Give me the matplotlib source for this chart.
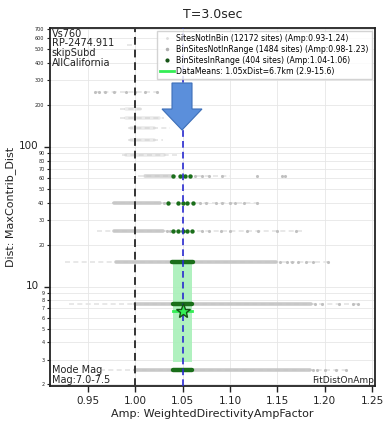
import matplotlib
matplotlib.use("Agg")
import matplotlib.pyplot as plt
import matplotlib.patches as mpatches
import matplotlib.transforms as mtransforms
from matplotlib.lines import Line2D
from matplotlib.ticker import FixedLocator, FixedFormatter

# ---------------- data ----------------
title = "T=3.0sec"
xlabel = "Amp: WeightedDirectivityAmpFactor"
ylabel = "Dist: MaxContrib_Dist"

# distance rows (km)
row_dist = [2.55, 7.5, 15, 25, 40, 62, 87, 112, 137, 160, 186, 247, 540]
# faint (SitesNotInBin) extent per row
faint_lo = [0.963, 0.930, 0.926, 0.960, 0.975, 1.003, 0.986, 0.992, 0.992, 0.984, 0.984, 0.957, 0.991]
faint_hi = [1.225, 1.235, 1.203, 1.176, 1.132, 1.100, 1.044, 1.029, 1.037, 1.030, 1.008, 1.023, 0.998]
# dense gray (BinSitesNotInRange) extent per row
dense_lo = [1.000, 1.000, 0.980, 0.978, 0.978, 1.010, 0.990, 0.995, 0.995, 0.990, 0.990, 0.990, 0.991]
dense_hi = [1.184, 1.185, 1.149, 1.029, 1.026, 1.040, 1.030, 1.020, 1.020, 1.025, 1.005, 1.000, 0.997]
dense_alpha = [0.9, 0.9, 0.9, 0.9, 0.9, 0.7, 0.35, 0.35, 0.35, 0.35, 0.3, 0.0, 0.0]
# sparse gray points
sparse_d = [2.55, 2.55, 2.55, 2.55, 2.55, 7.5, 7.5, 7.5, 7.5, 7.5,
            15, 15, 15, 15, 15, 15, 15,
            25, 25, 25, 25, 25, 25, 25, 25, 25, 25,
            40, 40, 40, 40, 40, 40, 40, 40, 40,
            62, 62, 62, 62, 62, 62, 62,
            247, 247, 247, 247, 247, 247, 247, 247]
sparse_a = [1.188, 1.192, 1.200, 1.212, 1.222, 1.190, 1.197, 1.215, 1.230, 1.235,
            1.153, 1.160, 1.165, 1.172, 1.180, 1.188, 1.203,
            1.033, 1.037, 1.070, 1.078, 1.090, 1.100, 1.118, 1.130, 1.150, 1.170,
            1.030, 1.068, 1.075, 1.085, 1.092, 1.100, 1.105, 1.115, 1.128,
            1.063, 1.070, 1.078, 1.091, 1.128, 1.155, 1.158,
            0.957, 0.962, 0.968, 0.978, 0.990, 1.000, 1.010, 1.023]
# BinSitesInRange (green)
green_lo = [1.040, 1.040, 1.039]
green_hi = [1.060, 1.060, 1.061]
green_rows = [2.55, 7.5, 15]
green_pts_d = [25, 25, 25, 25, 25, 40, 40, 40, 40, 40, 62, 62, 62, 62]
green_pts_a = [1.040, 1.045, 1.050, 1.055, 1.060, 1.035, 1.045, 1.050, 1.055, 1.061, 1.040, 1.047, 1.053, 1.058]

mean_amp = 1.05
mean_dist = 6.7
band_lo, band_hi = 2.9, 15.6
amp_lo, amp_hi = 1.04, 1.06
ref_amp = 1.00

legend_labels = ["SitesNotInBin (12172 sites) (Amp:0.93-1.24)",
                 "BinSitesNotInRange (1484 sites) (Amp:0.98-1.23)",
                 "BinSitesInRange (404 sites) (Amp:1.04-1.06)",
                 "DataMeans: 1.05xDist=6.7km (2.9-15.6)"]
info_top = "Vs760\nRP-2474.911\nskipSubd\nAllCalifornia"
info_bot = "Mode Mag\nMag:7.0-7.5"
info_br = "FitDistOnAmp"

xticks = [0.95, 1.00, 1.05, 1.10, 1.15, 1.20, 1.25]
xticklabels = ["0.95", "1.00", "1.05", "1.10", "1.15", "1.20", "1.25"]
ymajor = [10, 100]
yminor = [2, 3, 4, 5, 6, 7, 8, 9, 20, 30, 40, 50, 60, 70, 80, 90, 200, 300, 400, 500, 600, 700]

# ---------------- plot ----------------
W, H = 383, 422
fig = plt.figure(figsize=(W / 100, H / 100), dpi=100)
ax = fig.add_axes([50 / W, 1 - 386 / H, 325 / W, 358 / H])
ax.set_yscale("log")
ax.set_xlim(0.91, 1.253)
ax.set_ylim(1.95, 710)

ax.grid(True, which="both", axis="y", color="#e6e6e6", lw=0.6)
ax.grid(True, which="major", axis="x", color="#e6e6e6", lw=0.6)
ax.set_axisbelow(True)

for d, lo, hi in zip(row_dist, faint_lo, faint_hi):
    ax.plot([lo, hi], [d, d], color="#e4e4e4", lw=1.2, ls=(0, (3, 2)), zorder=2)
for d, lo, hi, al in zip(row_dist, dense_lo, dense_hi, dense_alpha):
    if al > 0:
        ax.plot([lo, hi], [d, d], color="#c4c4c4", lw=2.6, alpha=al, solid_capstyle="round", zorder=3)
ax.scatter(sparse_a, sparse_d, s=5, color="#c0c0c0", lw=0, zorder=3)

ax.fill_betweenx([band_lo, band_hi], amp_lo, amp_hi, color="#a8f0b8", alpha=0.9, lw=0, zorder=2.5)

for d, lo, hi in zip(green_rows, green_lo, green_hi):
    ax.plot([lo, hi], [d, d], color="#1a6e1a", lw=3.2, solid_capstyle="round", zorder=4)
ax.scatter(green_pts_a, green_pts_d, s=10, color="#1a6e1a", lw=0, zorder=4)

ax.axvline(ref_amp, color="#333333", ls=(0, (4, 2.5)), lw=1.4, zorder=5)
ax.axvline(mean_amp, color="#2a2ad0", ls=(0, (4, 2.5)), lw=1.2, zorder=5)

ax.plot([amp_lo, amp_hi], [mean_dist, mean_dist], color="#33ee55", lw=2, zorder=5)
ax.plot([mean_amp], [mean_dist], marker="*", ms=11, mfc="#33ee55", mec="#145214", mew=1, zorder=6)

ax.xaxis.set_major_locator(FixedLocator(xticks))
ax.xaxis.set_major_formatter(FixedFormatter(xticklabels))
ax.yaxis.set_major_locator(FixedLocator(ymajor))
ax.yaxis.set_major_formatter(FixedFormatter([str(v) for v in ymajor]))
ax.yaxis.set_minor_locator(FixedLocator(yminor))
ax.yaxis.set_minor_formatter(FixedFormatter([str(v) for v in yminor]))
ax.tick_params(axis="x", labelsize=7.5, length=4, width=1, colors="#222222")
ax.tick_params(axis="y", which="major", labelsize=7.5, length=4, width=1, colors="#222222", pad=4)
ax.tick_params(axis="y", which="minor", labelsize=3.5, length=2.5, width=0.8, colors="#222222", pad=1.5)
offset = mtransforms.ScaledTranslation(0, 1.5 / 72, fig.dpi_scale_trans)
for lab in ax.yaxis.get_majorticklabels():
    lab.set_transform(lab.get_transform() + offset)
for sp in ax.spines.values():
    sp.set_linewidth(1.3)
    sp.set_color("#222222")

ax.set_xlabel(xlabel, fontsize=8, color="#222222", labelpad=2)
ax.set_ylabel(ylabel, fontsize=8, color="#222222", labelpad=2)
ax.set_title(title, fontsize=9, color="#222222", pad=7)

ax.text(0.005, 0.998, info_top, transform=ax.transAxes, va="top", ha="left", fontsize=7,
        color="#222222", linespacing=0.95, zorder=7)
ax.text(0.005, 0.003, info_bot, transform=ax.transAxes, va="bottom", ha="left", fontsize=7,
        color="#222222", linespacing=0.95, zorder=7)
ax.text(0.998, 0.003, info_br, transform=ax.transAxes, va="bottom", ha="right", fontsize=6.5,
        color="#222222", zorder=7)

handles = [Line2D([], [], ls="", marker=".", ms=2, color="#dddddd"),
           Line2D([], [], ls="", marker=".", ms=3, color="#b0b0b0"),
           Line2D([], [], ls="", marker=".", ms=4, color="#145214"),
           Line2D([], [], color="#33ee55", lw=2)]
leg = ax.legend(handles, legend_labels, loc="upper right", fontsize=5.6, frameon=True,
                handlelength=1.8, handletextpad=0.3, borderpad=0.4, labelspacing=0.25,
                borderaxespad=0.4, framealpha=0.85, edgecolor="#cccccc", fancybox=False)
leg.set_zorder(8)

# overlay arrow (decoration)
arrow = mpatches.FancyArrow(182 / W, 1 - 83 / H, 0, -(47 / H), width=20 / W, head_width=40 / W,
                            head_length=21 / H, length_includes_head=True,
                            transform=fig.transFigure, facecolor="#5b8fdb", edgecolor="#3d6fb8",
                            lw=0.8, zorder=10)
fig.patches.append(arrow)

fig.savefig("out.png", dpi=100)
